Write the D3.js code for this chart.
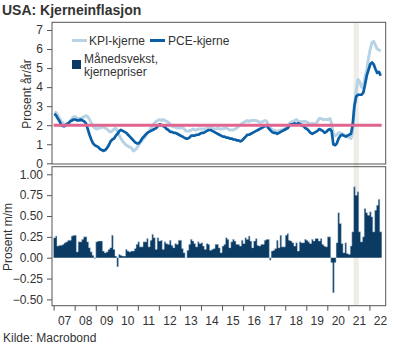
<!DOCTYPE html>
<html><head><meta charset="utf-8">
<script src="https://cdn.jsdelivr.net/npm/d3@7"></script>
<style>
body{margin:0;background:#fff}
text{font-family:"Liberation Sans",Arial,sans-serif;fill:#333}
</style>
</head><body>
<svg id="c" width="400" height="350"></svg>
<script>
// ---- DATA (monthly, Jan 2007 - Jul 2022) ----
const startYear = 2007;
const kpiCore = [
 2.7,2.65,2.5,2.35,2.2,2.1,2.05,2.05,2.1,2.2,2.35,2.45,
 2.45,2.35,2.35,2.35,2.4,2.45,2.5,2.45,2.3,2.1,1.95,1.85,
 1.8,1.85,1.85,1.9,1.9,1.85,1.8,1.7,1.65,1.7,1.8,1.85,
 1.65,1.45,1.3,1.15,1.05,0.95,0.9,0.85,0.8,0.65,0.7,0.8,
 0.95,1.1,1.2,1.3,1.45,1.6,1.7,1.85,2.0,2.1,2.2,2.25,
 2.3,2.25,2.3,2.25,2.2,2.15,2.05,1.95,1.9,1.9,1.85,1.85,
 1.85,1.9,1.8,1.7,1.7,1.7,1.75,1.8,1.75,1.75,1.8,1.8,
 1.8,1.8,1.8,1.85,1.9,1.9,1.85,1.8,1.8,1.85,1.8,1.8,
 1.8,1.85,1.85,1.8,1.75,1.75,1.75,1.8,1.85,1.95,2.0,2.1,
 2.15,2.2,2.25,2.2,2.25,2.25,2.25,2.25,2.2,2.15,2.15,2.2,
 2.25,2.2,2.0,1.9,1.75,1.75,1.7,1.7,1.7,1.75,1.75,1.8,
 1.85,1.9,2.1,2.15,2.2,2.25,2.3,2.2,2.2,2.15,2.2,2.2,
 2.15,2.1,2.05,2.1,2.05,2.1,2.2,2.35,2.35,2.3,2.3,2.3,
 2.3,2.35,2.1,1.55,1.45,1.5,1.6,1.6,1.55,1.5,1.45,1.4,
 1.35,1.3,1.6,3.0,3.8,4.4,4.3,4.0,4.0,4.5,4.9,5.5,
 6.0,6.35,6.4,6.2,6.0,5.95,5.9
];
const pceCore = [
 2.6,2.5,2.35,2.2,2.0,1.95,1.95,2.05,2.1,2.2,2.25,2.3,
 2.3,2.25,2.25,2.3,2.25,2.2,2.1,1.8,1.5,1.25,1.05,0.95,
 0.9,0.85,0.75,0.7,0.65,0.7,0.8,0.95,1.15,1.25,1.3,1.45,
 1.55,1.7,1.75,1.7,1.65,1.6,1.5,1.4,1.3,1.2,1.1,1.05,
 1.05,1.15,1.3,1.4,1.5,1.6,1.65,1.7,1.75,1.8,1.85,1.95,
 2.05,2.0,1.95,1.9,1.8,1.75,1.65,1.65,1.6,1.6,1.55,1.5,
 1.45,1.4,1.35,1.3,1.3,1.35,1.45,1.45,1.45,1.5,1.5,1.55,
 1.6,1.6,1.65,1.7,1.75,1.75,1.7,1.65,1.6,1.55,1.5,1.45,
 1.4,1.4,1.35,1.35,1.3,1.3,1.25,1.25,1.2,1.2,1.15,1.2,
 1.3,1.4,1.5,1.5,1.55,1.6,1.65,1.7,1.75,1.8,1.85,1.9,
 1.95,2.0,1.85,1.75,1.65,1.6,1.6,1.55,1.6,1.65,1.7,1.75,
 1.8,1.85,2.0,2.05,2.05,2.1,2.05,2.1,2.05,2.0,1.95,1.85,
 1.8,1.7,1.6,1.55,1.6,1.65,1.7,1.8,1.75,1.7,1.6,1.65,
 1.75,1.8,1.7,1.0,0.95,1.05,1.3,1.45,1.5,1.45,1.4,1.45,
 1.5,1.55,2.0,3.0,3.5,3.6,3.6,3.6,3.7,4.1,4.6,4.9,
 5.2,5.3,5.2,4.95,4.75,4.8,4.6
];
const monthlyCore = [
 0.24,0.26,0.14,0.15,0.15,0.16,0.18,0.19,0.21,0.21,0.26,0.27,
 0.27,0.07,0.19,0.19,0.22,0.25,0.25,0.19,0.12,0.07,0.03,-0.01,
 0.19,0.2,0.2,0.2,0.08,0.06,0.07,0.1,0.12,0.27,0.1,0.02,
 -0.11,0.04,0.03,0.02,0.02,0.1,0.08,0.07,0.08,0.08,0.11,0.16,
 0.19,0.13,0.13,0.19,0.19,0.23,0.13,0.21,0.28,0.24,0.1,0.24,
 0.2,0.21,0.1,0.19,0.17,0.16,0.21,0.15,0.12,0.17,0.16,0.21,
 0.21,0.11,0.06,0.0,0.09,0.16,0.22,0.2,0.17,0.13,0.19,0.17,
 0.18,0.14,0.1,0.17,0.16,0.09,0.1,0.11,0.16,0.16,0.12,0.06,
 0.14,0.16,0.24,0.22,0.12,0.19,0.22,0.2,0.16,0.16,0.14,0.21,
 0.17,0.24,0.22,0.26,0.2,0.12,0.2,0.23,0.15,0.14,0.16,0.16,
 0.21,0.22,0.22,-0.03,0.08,0.09,0.11,0.21,0.12,0.27,0.13,0.13,
 0.27,0.29,0.21,0.2,0.18,0.14,0.18,0.08,0.19,0.18,0.18,0.22,
 0.21,0.19,0.17,0.22,0.2,0.23,0.23,0.2,0.23,0.16,0.14,0.13,
 0.25,0.25,-0.06,-0.42,-0.06,0.18,0.54,0.41,0.17,0.06,0.18,0.05,
 0.04,0.14,0.31,0.85,0.75,0.79,0.31,0.19,0.25,0.59,0.54,0.51,
 0.55,0.49,0.31,0.57,0.63,0.7,0.31
];
const yTicksTop = [0,1,2,3,4,5,6,7];
const yTicksBottom = [-0.5,-0.25,0,0.25,0.5,0.75,1.0];
const xTickLabels = ["07","08","09","10","11","12","13","14","15","16","17","18","19","20","21","22"];
const targetValue = 2;
const shadeStart = [2021,3];  // Apr 2021
const shadeEnd = [2021,6];    // Jul 2021
const seriesNames = ["KPI-kjerne","PCE-kjerne"];
const barLegend = ["Månedsvekst,","kjernepriser"];

// ---- CHART ----
const svg = d3.select("#c");
const L = 52, R = 385.7;
const topP = {t:22.3, b:164};
const botP = {t:166.7, b:305.7};

const months = monthlyCore.map((_,i)=>new Date(startYear, i, 1));
const midMonth = d => new Date(d.getFullYear(), d.getMonth(), 15);

const x = d3.scaleTime().domain([new Date(2006,11,4), new Date(2022,9,10)]).range([L,R]);
const yT = d3.scaleLinear().domain([0,7]).range([163.3,30]);
const yB = d3.scaleLinear().domain([-0.5,1]).range([299.4,174.3]);

// shaded band
const bandX0 = x(new Date(shadeStart[0],shadeStart[1],1));
const bandX1 = x(new Date(shadeEnd[0],shadeEnd[1],1));
svg.append("rect").attr("x",bandX0).attr("y",topP.t).attr("width",bandX1-bandX0)
  .attr("height",botP.b-topP.t).attr("fill","#efede8");

// lines
const line = vals => d3.line().x((d,i)=>x(midMonth(months[i]))).y(d=>yT(d))(vals);
svg.append("path").attr("d",line(kpiCore)).attr("fill","none")
  .attr("stroke","#b8d3e4").attr("stroke-width",3).attr("stroke-linejoin","round");
svg.append("path").attr("d",line(pceCore)).attr("fill","none")
  .attr("stroke","#0b5fa7").attr("stroke-width",2.7).attr("stroke-linejoin","round");

// target line
svg.append("line").attr("x1",x(months[0])).attr("x2",x(new Date(2022,7,1)))
  .attr("y1",yT(targetValue)).attr("y2",yT(targetValue))
  .attr("stroke","#e0658f").attr("stroke-width",3);

// bars (drawn as one stepped area so neighbouring bars join without seams)
const xEnd = i => x(new Date(startYear,i+1,1));
const stepPts = [];
monthlyCore.forEach((d,i)=>{ stepPts.push([x(months[i]),d]); stepPts.push([xEnd(i),d]); });
svg.append("path")
  .attr("d",d3.area().x(p=>p[0]).y0(yB(0)).y1(p=>yB(p[1]))(stepPts))
  .attr("fill","#0b3a63");
svg.append("path").attr("d",d3.line().x(p=>p[0]).y(p=>yB(p[1]))(stepPts)).attr("fill","none")
  .attr("stroke","#c9dbe8").attr("stroke-width",0.5);

// frames
[topP,botP].forEach(p=>{
  svg.append("rect").attr("x",L).attr("y",p.t).attr("width",R-L).attr("height",p.b-p.t)
    .attr("fill","none").attr("stroke","#555").attr("stroke-width",1);
});

// y axes
const gT = svg.append("g").attr("transform",`translate(${L},0)`)
  .call(d3.axisLeft(yT).tickValues(yTicksTop).tickSize(5).tickPadding(4).tickFormat(d3.format("d")));
const gB = svg.append("g").attr("transform",`translate(${L},0)`)
  .call(d3.axisLeft(yB).tickValues(yTicksBottom).tickSize(5).tickPadding(4).tickFormat(d3.format(".2f")));
[gT,gB].forEach(g=>{
  g.select(".domain").remove();
  g.selectAll("line").attr("stroke","#555");
  g.selectAll("text").attr("font-size","12px").attr("fill","#444")
    .attr("font-family","Liberation Sans, Arial, sans-serif");
});

// x axis
const yearStarts = xTickLabels.map(s=>new Date(2000+ +s,0,1));
const gX = svg.append("g").attr("transform",`translate(0,${botP.b})`)
  .call(d3.axisBottom(x).tickValues(yearStarts).tickSize(5).tickFormat(""));
gX.select(".domain").remove();
gX.selectAll("line").attr("stroke","#555");
const midYears = xTickLabels.map(s=>new Date(2000+ +s,6,2));
const gXL = svg.append("g").attr("transform",`translate(0,${botP.b})`)
  .call(d3.axisBottom(x).tickValues(midYears).tickSize(0).tickPadding(11)
    .tickFormat((d,i)=>xTickLabels[i]));
gXL.select(".domain").remove();
gXL.selectAll("text").attr("font-size","12px").attr("fill","#444")
  .attr("font-family","Liberation Sans, Arial, sans-serif");

// axis titles
svg.append("text").attr("transform","translate(31,94) rotate(-90)").attr("text-anchor","middle")
  .attr("font-size","12px").attr("fill","#444").text("Prosent år/år");
svg.append("text").attr("transform","translate(12,237) rotate(-90)").attr("text-anchor","middle")
  .attr("font-size","12px").attr("fill","#444").text("Prosent m/m");

// legend
svg.append("line").attr("x1",72).attr("x2",87).attr("y1",40.5).attr("y2",40.5)
  .attr("stroke","#b8d3e4").attr("stroke-width",3);
svg.append("text").attr("x",89).attr("y",44.5).attr("font-size","12px").text(seriesNames[0]);
svg.append("line").attr("x1",150).attr("x2",165).attr("y1",40.5).attr("y2",40.5)
  .attr("stroke","#0b5fa7").attr("stroke-width",3);
svg.append("text").attr("x",168).attr("y",44.5).attr("font-size","12px").text(seriesNames[1]);
svg.append("rect").attr("x",72).attr("y",60).attr("width",9).attr("height",9).attr("fill","#0b3a63");
svg.append("text").attr("x",84).attr("y",63).attr("font-size","12px").text(barLegend[0]);
svg.append("text").attr("x",84).attr("y",75.5).attr("font-size","12px").text(barLegend[1]);

// title & source
svg.append("text").attr("x",2).attr("y",14.5).attr("font-size","14px").attr("font-weight","bold")
  .text("USA: Kjerneinflasjon");
svg.append("text").attr("x",3).attr("y",342).attr("font-size","12px").text("Kilde: Macrobond");
</script>
</body></html>
